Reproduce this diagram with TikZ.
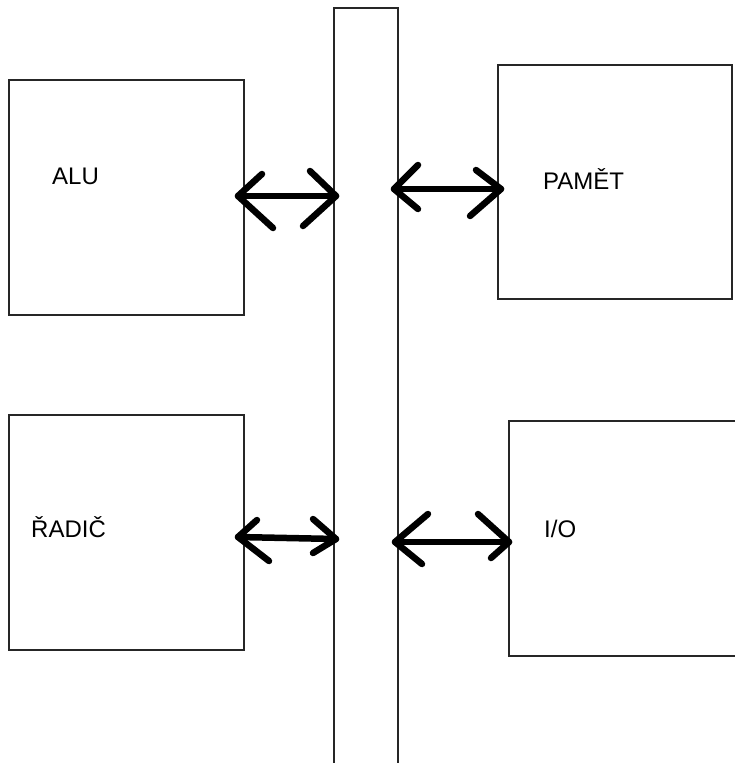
\documentclass[tikz,border=0pt]{standalone}
\usepackage{fontspec}
\setmainfont{Liberation Sans}
\begin{document}
\begin{tikzpicture}[x=1pt,y=-1pt,
  box/.style={draw=black!85,line width=1.3pt},
  lbl/.style={font=\fontsize{24}{28}\selectfont,inner sep=0pt,anchor=base west},
  arr/.style={line width=6.5pt,line cap=round,line join=round}]
\useasboundingbox (0,0) rectangle (734,763);
% boxes
\draw[box] (9,80) rectangle (244,315);
\node (alu) at (126.5,197.5) {};
\draw[box] (498,65) rectangle (732,299);
\node (pam) at (615,182) {};
\draw[box] (9,415) rectangle (244,650);
\node (rad) at (126.5,532.5) {};
\draw[box] (740,421) -- (509,421) -- (509,656) -- (740,656);
\node (io) at (621,538) {};
% bus
\draw[box] (334,775) -- (334,8) -- (398,8) -- (398,775);
\node (bus) at (366,390) {};
% labels
\node[lbl] (talu) at (52,184) {ALU};
\node[lbl] (tpam) at (543,189) {PAMĚT};
\node[lbl] (trad) at (31,537) {ŘADIČ};
\node[lbl] (tio) at (544,537) {I/O};
% arrows
\coordinate (a1) at (238,196); \coordinate (b1) at (336,196);
\draw[arr] (a1) -- (b1);
\draw[arr] (262,174) -- (a1) -- (273,228);
\draw[arr] (310,171) -- (b1) -- (303,226);
\coordinate (a2) at (394,189); \coordinate (b2) at (501,189);
\draw[arr] (a2) -- (b2);
\draw[arr] (418,165) -- (a2) -- (418,209);
\draw[arr] (476,170) -- (b2) -- (470,216);
\coordinate (a3) at (238,537); \coordinate (b3) at (336,539);
\draw[arr] (a3) -- (b3);
\draw[arr] (257,520) -- (a3) -- (269,561);
\draw[arr] (313,519) -- (b3) -- (313,553);
\coordinate (a4) at (395,542); \coordinate (b4) at (509,542);
\draw[arr] (a4) -- (b4);
\draw[arr] (428,514) -- (a4) -- (422,564);
\draw[arr] (478,514) -- (b4) -- (491,558);
\end{tikzpicture}
\end{document}
